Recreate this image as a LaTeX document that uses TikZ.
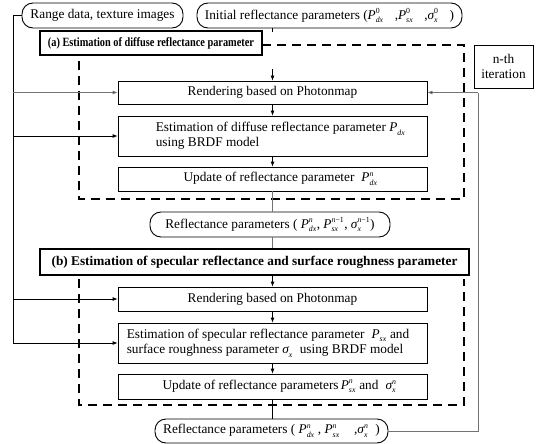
\documentclass[tikz,border=0pt]{standalone}
\usepackage{fontspec}
\setmainfont{Liberation Serif}
\usetikzlibrary{arrows.meta}
\usepackage{graphicx}
\newcommand\scr[1]{\mbox{\fontsize{7.8}{8}\selectfont #1}}
\newcommand\mv[3]{\ensuremath{\textit{#1}^{\scr{#2}}_{\scr{\textit{#3}}}}}
\begin{document}
\begin{tikzpicture}[x=1pt,y=-1pt,
  font=\fontsize{13.3}{15.5}\selectfont,
  box/.style={draw,line width=0.8pt,inner sep=0pt,minimum width=309pt},
  rbox/.style={draw,line width=0.9pt,rounded corners=11pt,inner sep=0pt},
  titlebox/.style={draw,line width=2.6pt,inner sep=0pt,font=\fontsize{13.3}{15.5}\selectfont\bfseries},
  dbox/.style={line width=2.5pt,dash pattern=on 9pt off 6pt},
  conn/.style={line width=0.8pt},
  gconn/.style={conn,draw=black!55},
  arr/.style={conn,-{Latex[length=5pt,width=4pt]}},
  garr/.style={arr,draw=black!55,-{Latex[length=5pt,width=4pt,fill=black]}},
  lbl/.style={inner sep=0pt,align=left}]

\useasboundingbox (0,0) rectangle (538,444);

% top inputs
\node[rbox,minimum width=161pt,minimum height=25pt] (range) at (102.5,15.5) {Range data, texture images};
\node[rbox,minimum width=265pt,minimum height=25pt] (init) at (329.5,15.5)
  {Initial reflectance parameters (\mv{P}{0}{dx}\;\;\;,\mv{P}{0}{sx}\;\;\;,\mv{σ}{0}{x}\;\;\;)};

% (a)
\node[titlebox,minimum width=222pt,minimum height=24pt] (titlea) at (151,43)
  {\fontsize{12.6}{14}\selectfont\scalebox{0.82}[1]{(a) Estimation of diffuse reflectance parameter}};
\node[draw,line width=0.8pt,minimum width=59pt,minimum height=43pt,inner sep=0pt,align=center] (nth) at (503.5,66.5) {n-th\\[-1pt]iteration};

\node[box,minimum height=23pt] (renda) at (272.5,92.5) {Rendering based on Photonmap};
\node[box,minimum height=40pt] (esta) at (272.5,136) {};
\node[lbl,anchor=west] (estatext) at ([xshift=38pt]esta.west)
  {Estimation of diffuse reflectance parameter \mv{P}{}{dx}\\using BRDF model};
\node[box,minimum height=24pt] (upda) at (272.5,179) {\hspace{16pt}Update of reflectance parameter \;\mv{P}{\textit{n}}{dx}};

\draw[dbox] (262,45) -- (464,45) -- (464,199) -- (79,199) -- (79,58);

\node[rbox,minimum width=240pt,minimum height=25pt] (mid) at (270,224.5)
  {Reflectance parameters ( \mv{P}{\textit{n}}{dx}, \mv{P}{\textit{n}−1}{sx}, \mv{σ}{\textit{n}−1}{x})};

% (b)
\node[titlebox,minimum width=429pt,minimum height=26pt] (titleb) at (254.5,262) {(b) Estimation of specular reflectance and surface roughness parameter};

\node[box,minimum height=24pt] (rendb) at (272.5,299) {Rendering based on Photonmap};
\node[box,minimum height=40pt] (estb) at (272.5,343) {};
\node[lbl,anchor=west] (estbtext) at ([xshift=9pt]estb.west)
  {Estimation of specular reflectance parameter \;\mv{P}{}{sx} and\\surface roughness parameter \mv{σ}{}{x} \;using BRDF model};
\node[box,minimum height=25pt] (updb) at (272.5,386.5) {\hspace{14pt}Update of reflectance parameters\,\mv{P}{\textit{n}}{sx} and \;\mv{σ}{\textit{n}}{x}};

\draw[dbox] (79,279) -- (79,405) -- (464,405) -- (464,279);

\node[rbox,minimum width=233pt,minimum height=24pt] (final) at (271.5,431)
  {Reflectance parameters ( \mv{P}{\textit{n}}{dx} , \mv{P}{\textit{n}}{sx} \;\;\;,\mv{σ}{\textit{n}}{x} \;)};

% connectors
\coordinate (L) at (13,0);
\coordinate (R) at (478,0);
\coordinate (atop) at (272.5,32);
\coordinate (abot) at (272.5,69);
\draw[conn] (init.south -| atop) -- (atop);
\draw[arr] (abot) -- (renda.north);
\draw[arr] (renda.south) -- (esta.north);
\draw[arr] (esta.south) -- (upda.north);
\draw[gconn] (upda.south) -- (upda.south |- mid.north);
\draw[gconn] (mid.south -| upda.south) -- (titleb.north -| upda.south);
\draw[arr] (titleb.south -| rendb.north) -- (rendb.north);
\draw[arr] (rendb.south) -- (estb.north);
\draw[arr] (estb.south) -- (updb.north);
\draw[conn] (updb.south) -- (updb.south |- final.north);

\draw[conn] (range.west) -- (range.west -| L) -- (estb.west -| L);
\draw[garr] (renda.west -| L) -- (renda.west);
\draw[arr] (esta.west -| L) -- (esta.west);
\draw[arr] (rendb.west -| L) -- (rendb.west);
\draw[arr] (estb.west -| L) -- (estb.west);

\draw[gconn] (final.east) -- (final.east -| R) -- (renda.east -| R);
\draw[garr] (renda.east -| R) -- (renda.east);
\end{tikzpicture}
\end{document}
